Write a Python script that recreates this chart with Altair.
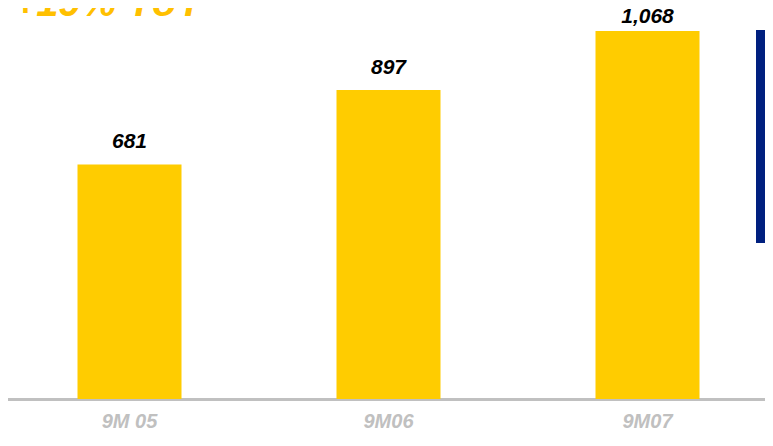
import altair as alt
import pandas as pd

periods = ["9M 05", "9M06", "9M07"]
values = [681, 897, 1068]
headline = ["+19% YoY"]

df = pd.DataFrame({"period": periods, "value": values})

x = alt.X("period:N", sort=periods,
          scale=alt.Scale(range=[-8, 769], paddingInner=0, paddingOuter=0),
          axis=alt.Axis(title=None, ticks=False, domainColor="#C0C0C0", domainWidth=3,
                        labelFont="Liberation Sans", labelFontSize=20,
                        labelFontWeight="bold", labelFontStyle="italic",
                        labelColor="#C0C0C0", labelAngle=0, labelBaseline="alphabetic",
                        labelPadding=28, grid=False))
y = alt.Y("value:Q", scale=alt.Scale(domain=[0, 1135], nice=False), axis=None)

base = alt.Chart(df)
bars = base.mark_bar(size=104, color="#FFCC00").encode(x=x, y=y)
# keep the top label inside the drawing area
labels = base.transform_calculate(
    lab="min(datum.value, 1045)"
).mark_text(font="Liberation Sans", fontSize=21, fontWeight="bold",
            fontStyle="italic", color="#000000", baseline="alphabetic",
            dy=-16).encode(x=x, y=alt.Y("lab:Q", scale=alt.Scale(domain=[0, 1135], nice=False), axis=None),
                           text=alt.Text("value:Q", format=","))

title = alt.Chart(pd.DataFrame({"t": headline})).mark_text(
    font="Liberation Sans", fontSize=40, fontWeight="bold", fontStyle="italic",
    color="#FFC000", align="left", baseline="alphabetic"
).encode(x=alt.value(5), y=alt.value(8), text="t:N")

deco = alt.Chart(pd.DataFrame({"d": [1]})).mark_rect(color="#00207F").encode(
    x=alt.value(748), x2=alt.value(757), y=alt.value(22), y2=alt.value(235))

chart = alt.layer(bars, labels, title, deco).properties(
    width=757, height=391,
    autosize=alt.AutoSizeParams(type="none"),
    padding={"left": 0, "top": 0, "right": 0, "bottom": 33},
).configure_view(stroke=None)

chart.save("out.html", embed_options={"renderer": "svg", "actions": False})
